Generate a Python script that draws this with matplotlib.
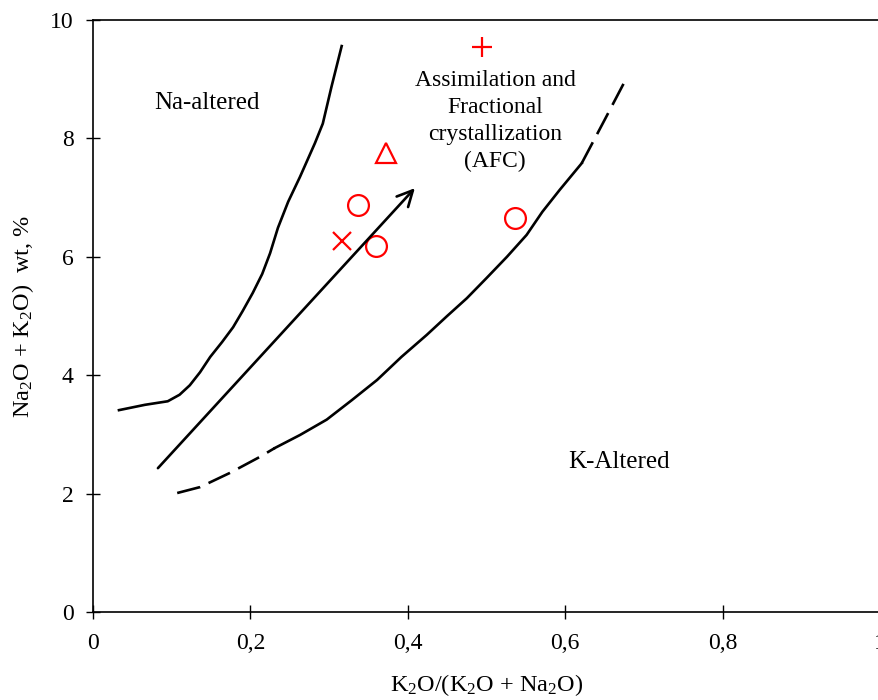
import numpy as np
import matplotlib.pyplot as plt
from matplotlib.ticker import FuncFormatter

plt.rcParams['font.family'] = ['Liberation Serif', 'DejaVu Serif']
plt.rcParams['mathtext.fontset'] = 'custom'
plt.rcParams['mathtext.rm'] = 'Liberation Serif'
plt.rcParams['mathtext.it'] = 'Liberation Serif:italic'

# Na-altered boundary
na_x = [0.033, 0.066, 0.095, 0.110, 0.123, 0.136, 0.149, 0.164, 0.178, 0.190,
        0.203, 0.215, 0.225, 0.235, 0.248, 0.263, 0.282, 0.292, 0.303, 0.316]
na_y = [3.41, 3.50, 3.56, 3.67, 3.83, 4.05, 4.31, 4.56, 4.81, 5.08,
        5.39, 5.71, 6.06, 6.49, 6.93, 7.35, 7.92, 8.25, 8.87, 9.56]

# K-altered boundary (dashed at both ends)
k_x = [0.107, 0.136, 0.174, 0.212, 0.231, 0.263, 0.297, 0.329, 0.361, 0.392, 0.424,
       0.450, 0.475, 0.500, 0.526, 0.551, 0.571, 0.593, 0.621, 0.650, 0.676]
k_y = [2.01, 2.11, 2.35, 2.62, 2.77, 2.99, 3.25, 3.58, 3.92, 4.31, 4.68,
       5.00, 5.30, 5.64, 6.00, 6.37, 6.76, 7.13, 7.58, 8.31, 8.97]
k_solid_from = 4
k_solid_to = 18

# AFC trend arrow
arrow_start = (0.0825, 2.43)
arrow_end = (0.409, 7.16)

# samples
circle_x = [0.337, 0.359, 0.536]
circle_y = [6.88, 6.18, 6.66]
tri_x, tri_y = [0.372], [7.75]
cross_x, cross_y = [0.317], [6.27]
plus_x, plus_y = [0.494], [9.54]

fig = plt.figure(figsize=(8.79, 7.0), dpi=100)
ax = fig.add_axes([0.1058, 0.1257, 0.8953, 0.8457])

lw = 1.9
line_kw = dict(color='black', lw=lw, solid_joinstyle='round', dash_joinstyle='round')
ax.plot(na_x, na_y, **line_kw)
dash = (0, (9, 3.5))
ax.plot(k_x[:k_solid_from + 1], k_y[:k_solid_from + 1], linestyle=dash, **line_kw)
ax.plot(k_x[k_solid_from:k_solid_to + 1], k_y[k_solid_from:k_solid_to + 1], **line_kw)
ax.plot(k_x[k_solid_to:], k_y[k_solid_to:], linestyle=dash, **line_kw)

ax.annotate('', xy=arrow_end, xytext=arrow_start,
            arrowprops=dict(arrowstyle='->', color='black', lw=lw, mutation_scale=28,
                            shrinkA=0, shrinkB=0))

red = '#ff0000'
ax.plot(circle_x, circle_y, 'o', ms=15, mfc='none', mec=red, mew=1.6)
ax.plot(tri_x, tri_y, '^', ms=14, mfc='none', mec=red, mew=1.6)
ax.plot(cross_x, cross_y, 'x', ms=13, mec=red, mew=1.6)
ax.plot(plus_x, plus_y, '+', ms=15, mec=red, mew=1.6)

ax.text(0.145, 8.6, 'Na-altered', fontsize=18, ha='center', va='center')
ax.text(0.511, 8.29, 'Assimilation and\nFractional\ncrystallization\n(AFC)',
        fontsize=17, ha='center', va='center', linespacing=1.37)
ax.text(0.668, 2.53, 'K-Altered', fontsize=18, ha='center', va='center')

ax.set_xlim(0, 1)
ax.set_ylim(0, 10)
ax.set_xticks([0, 0.2, 0.4, 0.6, 0.8, 1.0])
ax.set_yticks([0, 2, 4, 6, 8, 10])
ax.xaxis.set_major_formatter(FuncFormatter(lambda v, p: ('%g' % v).replace('.', ',')))
ax.tick_params(direction='inout', length=10, width=1, labelsize=17, pad=9, colors='black')
ax.tick_params(axis='x', pad=10)

ax.spines['right'].set_visible(False)
for s in ['left', 'bottom', 'top']:
    ax.spines[s].set_linewidth(1.2)

ax.set_xlabel('K$_2$O/(K$_2$O + Na$_2$O)', fontsize=17.5, labelpad=13)
ax.set_ylabel('Na$_2$O + K$_2$O)  wt, %', fontsize=17.5, labelpad=10)

fig.savefig('out.png', dpi=100)
